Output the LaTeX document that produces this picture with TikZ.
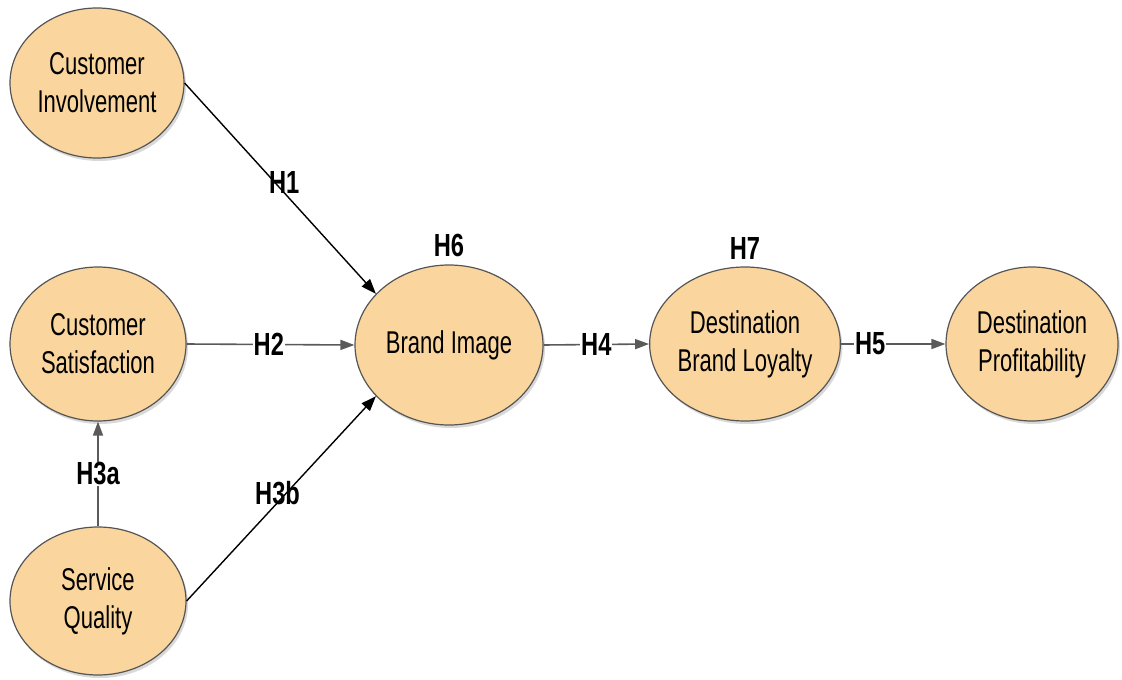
\documentclass[tikz,border=0pt]{standalone}
\usepackage{fontspec}
\setmainfont{Liberation Sans}[FakeStretch=0.7]
\newfontfamily\hfont{Liberation Sans}[FakeStretch=0.74]
\usetikzlibrary{shapes.geometric,arrows.meta,shadows}
\definecolor{peach}{RGB}{250,214,158}
\definecolor{rim}{RGB}{85,85,85}
\definecolor{garrow}{RGB}{90,90,90}
\tikzset{
  construct/.style={ellipse, draw=rim, line width=1.2pt, fill=peach, inner sep=0pt,
    align=center, font=\fontsize{31.5}{38}\selectfont,
    drop shadow={shadow xshift=2pt, shadow yshift=-3pt, fill=black!25, opacity=0.6}},
  blackpath/.style={draw=black, line width=1.4pt, -{Triangle[length=15pt,width=11pt]}},
  graypath/.style={draw=garrow, line width=1.6pt, -{Triangle[length=14pt,width=10pt]}},
  hlab/.style={font=\hfont\fontsize{32}{32}\selectfont\bfseries, text=black, inner sep=1pt},
  hlabw/.style={hlab, fill=white}
}
\begin{document}
\begin{tikzpicture}[x=1pt,y=-1pt]
\useasboundingbox (0,0) rectangle (1122,680);
\node[construct, minimum width=174pt, minimum height=150pt] (ci) at (97,83) {Customer\\Involvement};
\node[construct, minimum width=176pt, minimum height=154pt] (cs) at (98,344) {Customer\\Satisfaction};
\node[construct, minimum width=176pt, minimum height=148pt] (sq) at (98,601) {Service\\Quality};
\node[construct, minimum width=188pt, minimum height=160pt] (bi) at (449,345) {Brand Image};
\node[construct, minimum width=176pt, minimum height=154pt] (dbl) at (745,344) {Destination\\Brand Loyalty};
\node[construct, minimum width=172pt, minimum height=154pt] (dp) at (1032,344) {Destination\\Profitability};

\draw[blackpath] (ci.east) -- node[hlab, pos=0.5, xshift=4pt, yshift=6pt] (h1) {H1} (bi.145);
\draw[blackpath] (sq.east) -- node[hlab, pos=0.47, xshift=2pt, yshift=12pt] (h3b) {H3b} (bi.215);
\draw[graypath] (cs.east) -- node[hlabw, pos=0.49] (h2) {H2} (bi.west);
\draw[graypath] (sq.north) -- node[hlabw, pos=0.5] (h3a) {H3a} (cs.south);
\draw[graypath] (bi.east) -- node[hlabw, pos=0.5] (h4) {H4} (dbl.west);
\draw[graypath] (dbl.east) -- node[hlabw, pos=0.28] (h5) {H5} (dp.west);

\node[hlab, anchor=south] (h6) at ([yshift=6pt]bi.north) {H6};
\node[hlab, anchor=south] (h7) at ([yshift=6pt]dbl.north) {H7};
\end{tikzpicture}
\end{document}
